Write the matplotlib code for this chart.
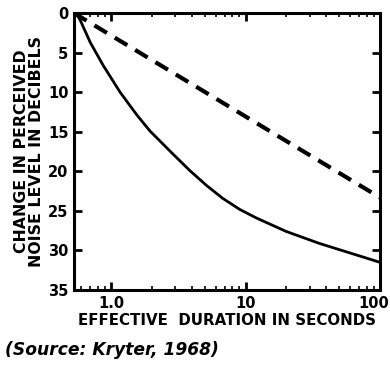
import matplotlib
matplotlib.use("Agg")
import matplotlib.pyplot as plt
import matplotlib.transforms as mtransforms
from matplotlib.ticker import LogLocator, NullFormatter, FixedLocator

# Data
solid_t = [0.55, 0.589, 0.699, 0.872, 1.166, 1.558, 1.945, 2.88, 3.85, 5.14,
           6.75, 9.03, 12.06, 20.1, 35.3, 62.1, 100.0]
solid_db = [0.0, 0.9, 3.7, 6.6, 10.0, 12.9, 14.9, 17.8, 19.9, 21.8,
            23.4, 24.8, 25.9, 27.6, 29.1, 30.4, 31.5]
dashed_t = [0.53, 100.0]
dashed_db = [0.0, 23.3]

y_ticks = [0, 5, 10, 15, 20, 25, 30, 35]
x_ticks = [1.0, 10, 100]
x_tick_labels = ["1.0", "10", "100"]

plt.rcParams['font.family'] = ['DejaVu Sans']
fig = plt.figure(figsize=(3.9, 3.65), dpi=100)
ax = fig.add_axes([0.19, 0.2055, 0.784, 0.7585])

ax.plot(solid_t, solid_db, color='black', lw=2.0, solid_capstyle='round',
        solid_joinstyle='round')
ax.plot(dashed_t, dashed_db, color='black', lw=3.0, dashes=(3.5, 2.2))

ax.set_xscale('log')
ax.set_xlim(0.53, 100)
ax.set_ylim(35, 0)

ax.set_yticks(y_ticks)
ax.set_yticklabels([str(v) for v in y_ticks], fontweight='bold', fontsize=10.5)
ax.xaxis.set_major_locator(FixedLocator(x_ticks))
ax.set_xticklabels(x_tick_labels, fontweight='bold', fontsize=10.5)
ax.xaxis.set_minor_locator(LogLocator(base=10, subs=range(2, 10)))
ax.xaxis.set_minor_formatter(NullFormatter())

ax.tick_params(axis='both', which='major', direction='in', length=6, width=2,
               top=True, right=True, pad=4)
ax.tick_params(axis='x', which='minor', direction='in', length=3, width=1.2,
               top=True, bottom=True)
for s in ax.spines.values():
    s.set_linewidth(2.2)

last = ax.get_xticklabels()[-1]
last.set_transform(last.get_transform() +
                   mtransforms.ScaledTranslation(-6 / 100, 0, fig.dpi_scale_trans))

ax.set_xlabel("EFFECTIVE  DURATION IN SECONDS", fontweight='bold', fontsize=10.8,
              labelpad=2)
ax.set_ylabel("CHANGE IN PERCEIVED\nNOISE LEVEL IN DECIBELS", fontweight='bold',
              fontsize=11.3, labelpad=3, linespacing=1.0)

fig.text(0.013, 0.04, "(Source: Kryter, 1968)", fontweight='bold', style='italic',
         fontsize=12.3, ha='left', va='center')

fig.savefig("out.png", dpi=100)
